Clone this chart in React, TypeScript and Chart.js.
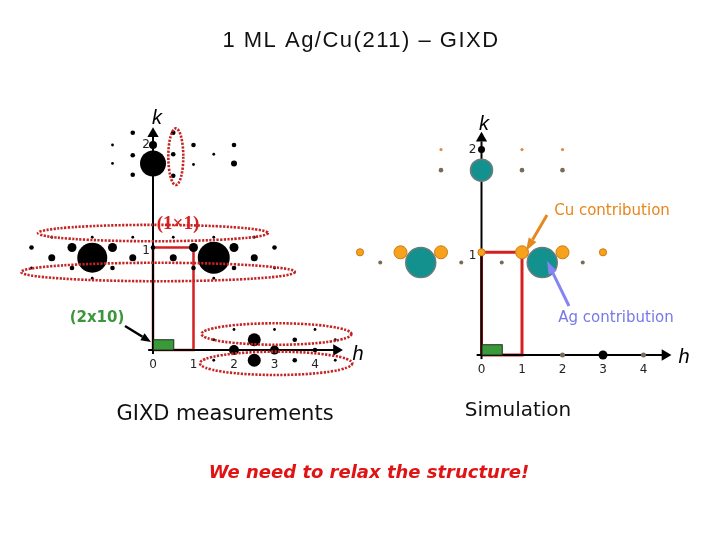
import React, { useEffect, useRef } from "react";
import { Chart, registerables } from "chart.js";
Chart.register(...registerables);

// ---------- DATA (reciprocal-lattice units: x = h, y = k) ----------
// Left panel: GIXD measurements, grouped by spot intensity
const measVeryStrong = [{ x: 0, y: 1.82 }, { x: -1.5, y: 0.9 }, { x: 1.5, y: 0.9 }];
const measStrong = [{ x: 2.5, y: 0.1 }, { x: 2.5, y: -0.1 }];
const measMedium = [
  { x: -2, y: 1 }, { x: -1, y: 1 }, { x: 1, y: 1 }, { x: 2, y: 1 },
  { x: -2.5, y: 0.9 }, { x: -0.5, y: 0.9 }, { x: 0.5, y: 0.9 }, { x: 2.5, y: 0.9 },
  { x: 2, y: 0 }, { x: 3, y: 0 }, { x: 0, y: 2 }, { x: 2, y: 1.82 },
];
const measWeak = [
  { x: -0.5, y: 2.12 }, { x: 0.5, y: 2.12 }, { x: -0.5, y: 1.9 }, { x: 0.5, y: 1.91 },
  { x: -0.5, y: 1.71 }, { x: 0.5, y: 1.7 }, { x: 1, y: 2 }, { x: 2, y: 2 },
  { x: -3, y: 1 }, { x: 0, y: 1 }, { x: 3, y: 1 },
  { x: -2, y: 0.8 }, { x: -1, y: 0.8 }, { x: 1, y: 0.8 }, { x: 2, y: 0.8 },
  { x: 3.5, y: 0.1 }, { x: 3.5, y: -0.1 }, { x: 4, y: 0 },
];
const measFaint = [
  { x: -1, y: 2 }, { x: -1, y: 1.82 }, { x: 1, y: 1.81 }, { x: 1.5, y: 1.91 },
  { x: -2.5, y: 1.1 }, { x: -1.5, y: 1.1 }, { x: -0.5, y: 1.1 }, { x: 0.5, y: 1.1 },
  { x: 1.5, y: 1.1 }, { x: 2.5, y: 1.1 }, { x: -3, y: 0.8 }, { x: 3, y: 0.8 },
  { x: -1.5, y: 0.7 }, { x: 1.5, y: 0.7 },
  { x: 2, y: 0.2 }, { x: 3, y: 0.2 }, { x: 4, y: 0.2 },
  { x: 1.5, y: 0.1 }, { x: 4.5, y: 0.1 }, { x: 1.5, y: -0.1 }, { x: 4.5, y: -0.1 },
];

// Right panel: simulation
const agSpots = [{ x: 0, y: 1.8 }, { x: -1.5, y: 0.9 }, { x: 1.5, y: 0.9 }];
const cuLarge = [{ x: -2, y: 1 }, { x: -1, y: 1 }, { x: 1, y: 1 }, { x: 2, y: 1 }];
const cuSmall = [{ x: -3, y: 1 }, { x: 0, y: 1 }, { x: 3, y: 1 }];
const cuFaint = [{ x: -1, y: 2 }, { x: 1, y: 2 }, { x: 2, y: 2 }];
const simGray = [
  { x: -1, y: 1.8 }, { x: 1, y: 1.8 }, { x: 2, y: 1.8 },
  { x: -2.5, y: 0.9 }, { x: -0.5, y: 0.9 }, { x: 0.5, y: 0.9 }, { x: 2.5, y: 0.9 },
  { x: 2, y: 0 }, { x: 4, y: 0 },
];
const simBlack = [{ x: 0, y: 2 }, { x: 3, y: 0 }];

// Unit cells and axes
const unitCell1x1 = [{ x: 0, y: 0 }, { x: 0, y: 1 }, { x: 1, y: 1 }, { x: 1, y: 0 }, { x: 0, y: 0 }];
const cell2x10 = { h: 0.5, k: 0.1 };
const hAxisLine = [{ x: -0.12, y: 0 }, { x: 4.5, y: 0 }];
const kAxisLine = [{ x: 0, y: -0.04 }, { x: 0, y: 2.08 }];
const hArrow = [{ x: 4.53, y: 0 }];
const kArrow = [{ x: 0, y: 2.11 }];
const hTickValues = [0, 1, 2, 3, 4];
const hTickLabels = ["0", "1", "2", "3", "4"];
const kTickValues = [1, 2];
const kTickLabels = ["1", "2"];

// Selection rings drawn on the measurement panel (h, k centre, half-widths)
const measRings = [
  { h: 0, k: 1.141, rh: 2.84, rk: 0.08 },
  { h: 0.123, k: 0.761, rh: 3.38, rk: 0.09 },
  { h: 0.563, k: 1.886, rh: 0.185, rk: 0.276 },
  { h: 3.05, k: 0.156, rh: 1.85, rk: 0.105 },
  { h: 3.04, k: -0.13, rh: 1.88, rk: 0.114 },
];

// ---------- TEXT / ANNOTATIONS (page layout) ----------
const texts = [
  { t: "1 ML Ag/Cu(211) \u2013 GIXD", x: 361, y: 41, font: "22px 'Liberation Sans'", c: "#111", ls: "1.5px" },
  { t: "k", x: 157, y: 118, font: "italic 20px 'Liberation Sans'", c: "#000" },
  { t: "k", x: 484, y: 124, font: "italic 20px 'Liberation Sans'", c: "#000" },
  { t: "h", x: 358, y: 354, font: "italic 20px 'Liberation Sans'", c: "#000" },
  { t: "h", x: 684, y: 357, font: "italic 20px 'Liberation Sans'", c: "#000" },
  { t: "(2x10)", x: 97, y: 318, font: "bold 15px 'DejaVu Sans'", c: "#3c963c" },
  { t: "(1\u00d71)", x: 178, y: 224, font: "bold 19px 'Liberation Serif'", c: "#d42020" },
  { t: "Cu contribution", x: 612, y: 211, font: "15px 'DejaVu Sans'", c: "#e6861c" },
  { t: "Ag contribution", x: 616, y: 318, font: "15px 'DejaVu Sans'", c: "#7878e8" },
  { t: "GIXD measurements", x: 225, y: 415, font: "21px 'DejaVu Sans'", c: "#111" },
  { t: "Simulation", x: 518, y: 411, font: "20px 'DejaVu Sans'", c: "#111" },
  { t: "We need to relax the structure!", x: 369, y: 473, font: "italic bold 18px 'DejaVu Sans'", c: "#e01414" },
];
const arrows = [
  { x1: 125, y1: 326, x2: 151, y2: 342, c: "#000", w: 2.5, hl: 10, hw: 8 },
  { x1: 547, y1: 215, x2: 526, y2: 251, c: "#e3891f", w: 3, hl: 13, hw: 9 },
  { x1: 569, y1: 306, x2: 547, y2: 261, c: "#8585f2", w: 3, hl: 13, hw: 9 },
];

function dots(data: any[], xa: string, ya: string, r: any, fill: string, border?: string, bw = 0, order = 5) {
  return {
    data, xAxisID: xa, yAxisID: ya, showLine: false,
    pointRadius: r, pointBackgroundColor: fill, pointBorderColor: border || fill,
    pointBorderWidth: bw, order,
  };
}
function line(data: any[], xa: string, ya: string, color: string, w: number, order: number) {
  return {
    data, xAxisID: xa, yAxisID: ya, showLine: true, pointRadius: 0,
    borderColor: color, borderWidth: w, borderJoinStyle: "miter", tension: 0, order,
  };
}
function arrowHead(data: any[], xa: string, ya: string, rot: number) {
  return {
    data, xAxisID: xa, yAxisID: ya, showLine: false, pointStyle: "triangle",
    pointRadius: 6.5, rotation: rot, pointBackgroundColor: "#000", pointBorderColor: "#000",
    pointBorderWidth: 0, order: 3,
  };
}

const decor = {
  id: "decor",
  afterDatasetsDraw(chart: any) {
    const ctx = chart.ctx;
    const { xL, yL, xR, yR } = chart.scales;
    ctx.save();
    // rings
    ctx.strokeStyle = "#c42424";
    ctx.lineWidth = 2.6;
    ctx.setLineDash([2.2, 1.4]);
    measRings.forEach((r) => {
      const cx = xL.getPixelForValue(r.h), cy = yL.getPixelForValue(r.k);
      const rx = Math.abs(xL.getPixelForValue(r.h + r.rh) - cx);
      const ry = Math.abs(yL.getPixelForValue(r.k + r.rk) - cy);
      ctx.beginPath();
      ctx.ellipse(cx, cy, rx, ry, 0, 0, Math.PI * 2);
      ctx.stroke();
    });
    ctx.setLineDash([]);
    // 2x10 cells
    [[xL, yL], [xR, yR]].forEach(([xs, ys]: any) => {
      const x0 = xs.getPixelForValue(0), x1 = xs.getPixelForValue(cell2x10.h);
      const y0 = ys.getPixelForValue(0), y1 = ys.getPixelForValue(cell2x10.k);
      ctx.fillStyle = "#3a9a3a";
      ctx.fillRect(x0 + 0.5, y1, x1 - x0, y0 - y1);
      ctx.strokeStyle = "#1c2e1c";
      ctx.lineWidth = 1;
      ctx.strokeRect(x0 + 0.5, y1, x1 - x0, y0 - y1);
    });
    // tick labels
    ctx.font = "12px 'DejaVu Sans'";
    ctx.fillStyle = "#222";
    ctx.textAlign = "center";
    ctx.textBaseline = "middle";
    hTickValues.forEach((v, i) => {
      ctx.fillText(hTickLabels[i], xL.getPixelForValue(v), yL.getPixelForValue(0) + 15);
      ctx.fillText(hTickLabels[i], xR.getPixelForValue(v), yR.getPixelForValue(0) + 15);
    });
    kTickValues.forEach((v, i) => {
      ctx.fillText(kTickLabels[i], xL.getPixelForValue(0) - 7, yL.getPixelForValue(v) + (v === 1 ? 3 : 0));
      ctx.fillText(kTickLabels[i], xR.getPixelForValue(0) - 9, yR.getPixelForValue(v) + (v === 1 ? 4 : 0));
    });
    // arrows
    arrows.forEach((a) => {
      const ang = Math.atan2(a.y2 - a.y1, a.x2 - a.x1);
      const bx = a.x2 - Math.cos(ang) * a.hl, by = a.y2 - Math.sin(ang) * a.hl;
      ctx.strokeStyle = a.c;
      ctx.lineWidth = a.w;
      ctx.beginPath();
      ctx.moveTo(a.x1, a.y1);
      ctx.lineTo(bx, by);
      ctx.stroke();
      ctx.fillStyle = a.c;
      ctx.beginPath();
      ctx.moveTo(a.x2, a.y2);
      ctx.lineTo(bx + Math.sin(ang) * a.hw / 2, by - Math.cos(ang) * a.hw / 2);
      ctx.lineTo(bx - Math.sin(ang) * a.hw / 2, by + Math.cos(ang) * a.hw / 2);
      ctx.closePath();
      ctx.fill();
    });
    // texts
    texts.forEach((t: any) => {
      ctx.font = t.font;
      ctx.fillStyle = t.c;
      ctx.textAlign = "center";
      ctx.textBaseline = "middle";
      (ctx as any).letterSpacing = t.ls || "0px";
      ctx.fillText(t.t, t.x, t.y);
    });
    (ctx as any).letterSpacing = "0px";
    ctx.restore();
  },
};

export default function App() {
  const ref = useRef<HTMLCanvasElement | null>(null);
  useEffect(() => {
    if (!ref.current) return;
    const datasets: any[] = [
      // unit cells (bottom)
      line(unitCell1x1, "xL", "yL", "#d42020", 2.5, 20),
      line(unitCell1x1, "xR", "yR", "#d42020", 3, 20),
      // axes
      line(hAxisLine, "xL", "yL", "#000", 2, 10),
      line(kAxisLine, "xL", "yL", "#000", 2, 10),
      line(hAxisLine, "xR", "yR", "#000", 2, 10),
      line(kAxisLine, "xR", "yR", "#000", 2, 10),
      arrowHead(hArrow, "xL", "yL", 90),
      arrowHead(kArrow, "xL", "yL", 0),
      arrowHead(hArrow, "xR", "yR", 90),
      arrowHead(kArrow, "xR", "yR", 0),
      // measured spots
      dots(measVeryStrong, "xL", "yL", [13, 15, 16], "#000"),
      dots(measStrong, "xL", "yL", 6.5, "#000"),
      dots(measMedium, "xL", "yL", [4.5, 4.5, 4.5, 4.5, 3.5, 3.5, 3.5, 3.5, 5, 4.5, 4, 3], "#000"),
      dots(measWeak, "xL", "yL", 2.3, "#000"),
      dots(measFaint, "xL", "yL", 1.4, "#000"),
      // simulated spots
      dots(agSpots, "xR", "yR", [11, 15, 15], "#12918f", "#6a7d7d", 1.5),
      dots(cuLarge, "xR", "yR", 6.5, "#f6a21d", "#cf7a12", 1),
      dots(cuSmall, "xR", "yR", 3.6, "#f6a21d", "#cf7a12", 1),
      dots(cuFaint, "xR", "yR", 1.6, "#e08a4a"),
      dots(simGray, "xR", "yR", [2.3, 2.3, 2.3, 2, 2, 2, 2, 2.5, 2.5], "#7a6a5a"),
      dots(simBlack, "xR", "yR", [3.5, 4.5], "#000"),
    ];
    const chart = new Chart(ref.current, {
      type: "scatter",
      data: { datasets },
      options: {
        animation: false,
        responsive: false,
        maintainAspectRatio: false,
        events: [],
        layout: { padding: 0, autoPadding: false },
        plugins: { legend: { display: false }, tooltip: { enabled: false }, title: { display: false } },
        scales: {
          xL: { type: "linear", axis: "x", display: false, min: -153 / 40.5, max: (720 - 153) / 40.5 },
          yL: { type: "linear", axis: "y", display: false, min: -(540 - 350) / 102.5, max: 350 / 102.5 },
          xR: { type: "linear", axis: "x", display: false, min: -481.5 / 40.5, max: (720 - 481.5) / 40.5 },
          yR: { type: "linear", axis: "y", display: false, min: -(540 - 355) / 102.7, max: 355 / 102.7 },
        },
      } as any,
      plugins: [decor],
    });
    return () => chart.destroy();
  }, []);
  return (
    <div style={{ position: "absolute", left: 0, top: 0, width: 720, height: 540, background: "#fff" }}>
      <canvas ref={ref} width={720} height={540} style={{ display: "block" }} />
    </div>
  );
}
